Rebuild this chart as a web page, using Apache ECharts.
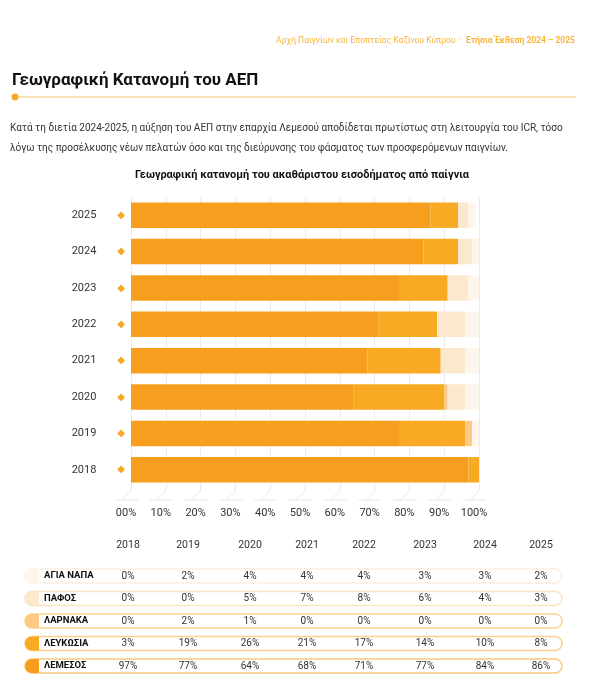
<!DOCTYPE html>
<html>
<head>
<meta charset="utf-8">
<script src="https://cdn.jsdelivr.net/npm/echarts@6/dist/echarts.min.js"></script>
<style>
  html, body {margin: 0; padding: 0; background: #fff;}
  #chart {width: 600px; height: 698px;}
</style>
</head>
<body>
<div id="chart"></div>
<script>
// data
const years = ['2018', '2019', '2020', '2021', '2022', '2023', '2024', '2025'];
const regions = ['ΑΓΙΑ ΝΑΠΑ', 'ΠΑΦΟΣ', 'ΛΑΡΝΑΚΑ', 'ΛΕΥΚΩΣΙΑ', 'ΛΕΜΕΣΟΣ'];
const agiaNapa = [0, 2, 4, 4, 4, 3, 3, 2];
const pafos = [0, 0, 5, 7, 8, 6, 4, 3];
const larnaka = [0, 2, 1, 0, 0, 0, 0, 0];
const lefkosia = [3, 19, 26, 21, 17, 14, 10, 8];
const lemesos = [97, 77, 64, 68, 71, 77, 84, 86];
const xTicks = [0, 10, 20, 30, 40, 50, 60, 70, 80, 90, 100];
const xTickLabels = ['00%', '10%', '20%', '30%', '40%', '50%', '60%', '70%', '80%', '90%', '100%'];

const FONT = 'Roboto';
const TEXT = '#333';
const regionColors = {
    'ΑΓΙΑ ΝΑΠΑ': '#FDF6EC',
    'ΠΑΦΟΣ': '#FCE8CC',
    'ΛΑΡΝΑΚΑ': '#FDC983',
    'ΛΕΥΚΩΣΙΑ': '#F9AA25',
    'ΛΕΜΕΣΟΣ': '#F79E1F',
};
const rowBorders = ['#FCF1E3', '#FBE3C3', '#FCD394', '#FBD08C', '#FAC97C'];
const tableRows = {
    'ΑΓΙΑ ΝΑΠΑ': agiaNapa,
    'ΠΑΦΟΣ': pafos,
    'ΛΑΡΝΑΚΑ': larnaka,
    'ΛΕΥΚΩΣΙΑ': lefkosia,
    'ΛΕΜΕΣΟΣ': lemesos,
};

// table layout
const colX = [128, 188, 250, 307, 364, 425, 485, 541];
const headerY = 545;
const rowY0 = 576;
const rowStep = 22.5;

const graphic = [];

// page header
graphic.push({
    type: 'text', x: 575, y: 41,
    style: {
        text: '{a|Αρχή Παιγνίων και Εποπτείας Καζίνου Κύπρου  ·  }{b|Ετήσια Έκθεση 2024 – 2025}',
        align: 'right', verticalAlign: 'middle',
        rich: {
            a: {fontSize: 8.5, fontFamily: FONT, fill: '#F9B43C'},
            b: {fontSize: 8.5, fontFamily: FONT, fill: '#F9B43C', fontWeight: 'bold'},
        },
    },
});
graphic.push({
    type: 'text', x: 12, y: 81,
    style: {text: 'Γεωγραφική Κατανομή του ΑΕΠ', fontSize: 17, fontWeight: 'bold', fontFamily: FONT, fill: '#111', verticalAlign: 'middle'},
});
graphic.push({type: 'line', shape: {x1: 15, y1: 97, x2: 576, y2: 97}, style: {stroke: '#FBC46A', lineWidth: 1.2}});
graphic.push({type: 'circle', shape: {cx: 15, cy: 97, r: 3.5}, style: {fill: '#F9A825'}});
graphic.push({
    type: 'text', x: 10, y: 128,
    style: {
        text: 'Κατά τη διετία 2024-2025, η αύξηση του ΑΕΠ στην επαρχία Λεμεσού αποδίδεται πρωτίστως στη λειτουργία του ICR, τόσο',
        fontSize: 10, fontFamily: FONT, fill: TEXT, verticalAlign: 'middle',
    },
});
graphic.push({
    type: 'text', x: 10, y: 148,
    style: {
        text: 'λόγω της προσέλκυσης νέων πελατών όσο και της διεύρυνσης του φάσματος των προσφερόμενων παιγνίων.',
        fontSize: 10, fontFamily: FONT, fill: TEXT, verticalAlign: 'middle',
    },
});

// table header
years.forEach((y, i) => {
    graphic.push({
        type: 'text', x: colX[i], y: headerY,
        style: {text: y, fontSize: 10.5, fontFamily: FONT, fill: TEXT, align: 'center', verticalAlign: 'middle'},
    });
});

// table rows
regions.forEach((name, r) => {
    const cy = rowY0 + r * rowStep;
    graphic.push({
        type: 'rect', shape: {x: 25, y: cy - 7, width: 537, height: 14, r: 7},
        style: {fill: '#fff', stroke: rowBorders[r], lineWidth: 1.5},
    });
    graphic.push({
        type: 'rect', shape: {x: 25, y: cy - 7, width: 14, height: 14, r: [7, 0, 0, 7]},
        style: {fill: regionColors[name]},
    });
    graphic.push({
        type: 'text', x: 44, y: cy,
        style: {text: name, fontSize: 9.5, fontWeight: 'bold', fontFamily: FONT, fill: '#111', verticalAlign: 'middle'},
    });
    tableRows[name].forEach((v, i) => {
        graphic.push({
            type: 'text', x: colX[i], y: cy,
            style: {text: v + '%', fontSize: 10, fontFamily: FONT, fill: TEXT, align: 'center', verticalAlign: 'middle'},
        });
    });
});

const barSeries = (name, data) => ({
    name,
    type: 'bar',
    stack: 'total',
    barWidth: '70%',
    data,
    itemStyle: {color: regionColors[name]},
    silent: true,
});

const chart = echarts.init(document.getElementById('chart'), null, {renderer: 'canvas'});
chart.setOption({
    animation: false,
    backgroundColor: '#fff',
    title: {
        text: 'Γεωγραφική κατανομή του ακαθάριστου εισοδήματος από παίγνια',
        left: 297, top: 165, textAlign: 'center',
        textStyle: {fontSize: 11, fontWeight: 'bold', fontFamily: FONT, color: '#111'},
    },
    grid: {left: 131, right: 121, top: 197, height: 291, containLabel: false},
    xAxis: {
        type: 'value',
        min: 0, max: 100, interval: 10,
        axisLine: {show: false},
        axisTick: {show: false},
        axisLabel: {
            color: TEXT, fontSize: 11, fontFamily: FONT, margin: 20,
            padding: [0, 10, 0, 0],
            formatter: (v) => xTickLabels[xTicks.indexOf(v)],
        },
        splitLine: {lineStyle: {color: '#ececec', width: 1}},
    },
    yAxis: {
        type: 'category',
        data: years,
        axisLine: {show: false},
        axisTick: {show: false},
        axisLabel: {
            margin: 5,
            formatter: (v) => `{y|${v}}{s|}{d|◆}`,
            rich: {
                y: {width: 40, align: 'center', fontSize: 11, fontFamily: FONT, color: TEXT},
                s: {width: 12},
                d: {width: 10, align: 'center', fontSize: 10, fontFamily: 'DejaVu Sans', color: '#F9A825'},
            },
        },
    },
    series: [
        barSeries('ΛΕΜΕΣΟΣ', lemesos),
        barSeries('ΛΕΥΚΩΣΙΑ', lefkosia),
        barSeries('ΛΑΡΝΑΚΑ', larnaka),
        barSeries('ΠΑΦΟΣ', pafos),
        barSeries('ΑΓΙΑ ΝΑΠΑ', agiaNapa),
        {
            // decorative floor under the gridlines
            type: 'custom',
            silent: true,
            clip: false,
            z: 1,
            encode: {x: 0, y: 1},
            data: xTicks.map(v => [v, years[0]]),
            renderItem: (params, api) => {
                const x = api.coord([api.value(0), years[0]])[0];
                const band = api.size([0, 1])[1];
                const yb = api.coord([0, years[0]])[1] + band / 2;
                const st = {stroke: '#e6e6e6', lineWidth: 1};
                return {
                    type: 'group',
                    children: [
                        {type: 'line', shape: {x1: x, y1: yb, x2: x, y2: yb + 3}, style: st},
                        {type: 'line', shape: {x1: x, y1: yb + 3, x2: x - 9, y2: yb + 12}, style: st},
                        {type: 'line', shape: {x1: x - 16, y1: yb + 12, x2: x + 7, y2: yb + 12}, style: st},
                    ],
                };
            },
        },
    ],
    graphic,
});
</script>
</body>
</html>
